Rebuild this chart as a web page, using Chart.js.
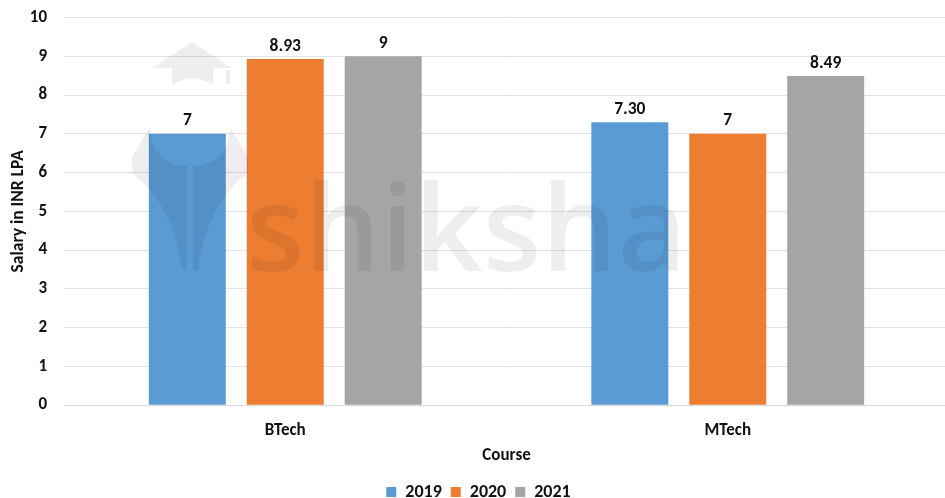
<!DOCTYPE html>
<html lang="en">
<head>
  <meta charset="UTF-8">
  <title>Salary by course</title>
  <script src="https://cdn.jsdelivr.net/npm/chart.js"></script>
  <style>
    html, body { margin: 0; padding: 0; background: #fff; overflow: hidden; }
    #wrap { width: 949px; height: 498px; position: relative; }
  </style>
</head>
<body>
  <div id="wrap"><canvas id="chart"></canvas></div>
  <script>
    const categories = ["BTech", "MTech"];
    const years = ["2019", "2020", "2021"];
    const values2019 = [7, 7.30];
    const values2020 = [8.93, 7];
    const values2021 = [9, 8.49];
    const labels2019 = ["7", "7.30"];
    const labels2020 = ["8.93", "7"];
    const labels2021 = ["9", "8.49"];
    const colors = ["#5b9bd5", "#ed7d31", "#a5a5a5"];

    const font = "Carlito, 'Liberation Sans', sans-serif";

    // faint watermark: cap, two leaves, word
    function drawWatermark(ctx) {
      ctx.save();
      ctx.fillStyle = "rgba(0,0,0,0.065)";
      ctx.font = "600 120px 'Open Sans', sans-serif";
      ctx.textAlign = "left";
      ctx.textBaseline = "alphabetic";
      ctx.fillText("shiksha", 246, 271);

      ctx.beginPath();
      ctx.moveTo(152, 68); ctx.lineTo(192, 42); ctx.lineTo(232, 68);
      ctx.lineTo(213, 68); ctx.lineTo(213, 85);
      ctx.quadraticCurveTo(192, 72, 172, 85);
      ctx.lineTo(172, 68);
      ctx.closePath();
      ctx.rect(226, 70, 4, 14);
      ctx.fill();

      [1, -1].forEach(side => {
        const x = d => 190 + side * d;
        ctx.beginPath();
        ctx.moveTo(x(58), 157);
        ctx.lineTo(x(40), 127);
        ctx.quadraticCurveTo(x(38), 165, x(3), 166);
        ctx.lineTo(x(3), 270);
        ctx.lineTo(x(8), 270);
        ctx.quadraticCurveTo(x(16), 205, x(58), 173);
        ctx.closePath();
        ctx.fill();
      });
      ctx.restore();
    }

    // value labels above each bar
    const barLabels = {
      id: "barLabels",
      afterDatasetsDraw(chart) {
        const ctx = chart.ctx;
        drawWatermark(ctx);
        ctx.save();
        ctx.font = "bold 17.5px " + font;
        ctx.fillStyle = "#111";
        ctx.textAlign = "center";
        ctx.textBaseline = "bottom";
        chart.data.datasets.forEach((ds, i) => {
          chart.getDatasetMeta(i).data.forEach((bar, j) => {
            ctx.fillText(ds.valueLabels[j], bar.x, bar.y - 4);
          });
        });
        ctx.restore();
      }
    };

    new Chart(document.getElementById("chart"), {
      type: "bar",
      data: {
        labels: categories,
        datasets: [
          { label: years[0], data: values2019, backgroundColor: colors[0], valueLabels: labels2019 },
          { label: years[1], data: values2020, backgroundColor: colors[1], valueLabels: labels2020 },
          { label: years[2], data: values2021, backgroundColor: colors[2], valueLabels: labels2021 }
        ]
      },
      options: {
        responsive: true,
        maintainAspectRatio: false,
        animation: false,
        layout: { padding: { left: 8, right: 0, top: 17.5, bottom: -13 } },
        datasets: { bar: { categoryPercentage: 0.664, barPercentage: 0.786 } },
        scales: {
          x: {
            grid: { display: false },
            border: { color: "#d9d9d9" },
            ticks: { padding: 7, color: "#111", font: { family: font, size: 17, weight: "bold" } },
            title: { display: true, text: "Course", color: "#111", padding: { top: -2, bottom: 8 }, font: { family: font, size: 17, weight: "bold" } }
          },
          y: {
            min: 0,
            max: 10,
            afterFit(scale) { scale.width = 56; scale.paddingTop = 0; scale.paddingBottom = 0; },
            grid: { color: "#e2e2e2", drawTicks: false },
            border: { display: false },
            ticks: { stepSize: 1, padding: 17, color: "#111", font: { family: font, size: 17, weight: "bold" } },
            title: { display: true, text: "Salary in INR LPA", color: "#111", padding: 0, font: { family: font, size: 17.5, weight: "bold" } }
          }
        },
        plugins: {
          legend: {
            position: "bottom",
            labels: { boxWidth: 10, boxHeight: 10, padding: 9, color: "#111", font: { family: font, size: 18, weight: "bold" } }
          },
          tooltip: { enabled: false }
        }
      },
      plugins: [barLabels]
    });
  </script>
</body>
</html>
